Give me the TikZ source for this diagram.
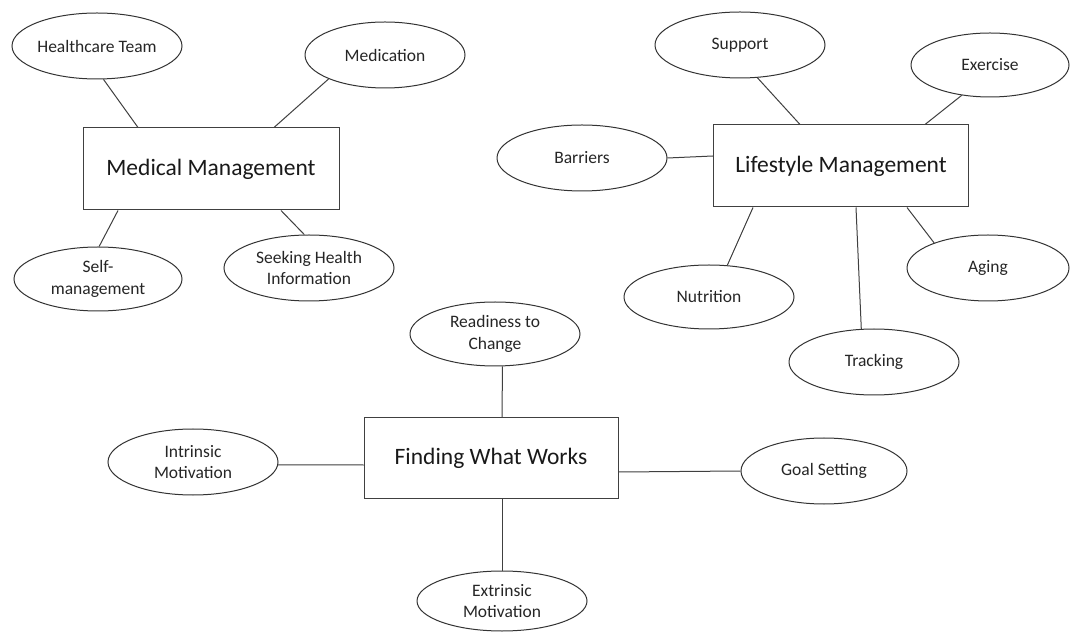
\documentclass[tikz,border=0pt]{standalone}
\usepackage{fontspec}
\setmainfont{Carlito}
\usetikzlibrary{shapes.geometric}
\begin{document}
\begin{tikzpicture}[x=1pt,y=1pt,
  oval/.style={ellipse,draw=black!80,line width=1pt,inner sep=0pt,align=center,
    font=\fontsize{17.5}{21.5}\selectfont,text=black!85},
  hub/.style={rectangle,draw=black!75,line width=1pt,inner sep=0pt,
    font=\fontsize{23.5}{28}\selectfont,text=black!90},
  link/.style={draw=black!75,line width=1pt}]
\useasboundingbox[fill=white] (0,0) rectangle (1070,632);
% Medical Management
\node[hub,minimum width=256pt,minimum height=82pt] (mm) at (211,463) {Medical Management};
\node[oval,minimum width=170pt,minimum height=66pt] (ht) at (97,586) {Healthcare Team};
\node[oval,minimum width=160pt,minimum height=66pt] (med) at (385,577) {Medication};
\node[oval,minimum width=168pt,minimum height=64pt] (self) at (98,353) {Self-\\management};
\node[oval,minimum width=170pt,minimum height=66pt] (seek) at (309,364) {Seeking Health\\Information};
% Lifestyle Management
\node[hub,minimum width=255pt,minimum height=82pt] (lm) at (841,466) {Lifestyle Management};
\node[oval,minimum width=170pt,minimum height=66pt] (sup) at (740,587) {Support};
\node[oval,minimum width=158pt,minimum height=64pt] (ex) at (990,567) {Exercise};
\node[oval,minimum width=170pt,minimum height=66pt] (bar) at (582,474) {Barriers};
\node[oval,minimum width=170pt,minimum height=64pt] (nut) at (709,335) {Nutrition};
\node[oval,minimum width=162pt,minimum height=66pt] (aging) at (988,364) {Aging};
\node[oval,minimum width=170pt,minimum height=66pt] (track) at (874,270) {Tracking};
% Finding What Works
\node[hub,minimum width=254pt,minimum height=81pt] (fww) at (491,174) {Finding What Works};
\node[oval,minimum width=170pt,minimum height=64pt] (ready) at (495,298) {Readiness to\\Change};
\node[oval,minimum width=170pt,minimum height=66pt] (intr) at (193,170) {Intrinsic\\Motivation};
\node[oval,minimum width=166pt,minimum height=66pt] (goal) at (824,161) {Goal Setting};
\node[oval,minimum width=170pt,minimum height=60pt] (extr) at (502,31) {Extrinsic\\Motivation};
% connectors
\draw[link] (ht.-79) -- ([xshift=-73pt]mm.north);
\draw[link] (med.-157) -- ([xshift=63pt]mm.north);
\draw[link] (self.88) -- ([xshift=-93pt]mm.south);
\draw[link] (seek.98) -- ([xshift=70pt]mm.south);
\draw[link] (sup.-62) -- ([xshift=-41pt]lm.north);
\draw[link] (ex.-133) -- ([xshift=84pt]lm.north);
\draw[link] (bar.east) -- ([yshift=10pt]lm.west);
\draw[link] (nut.60) -- ([xshift=-88pt]lm.south);
\draw[link] (track.111) -- ([xshift=15pt]lm.south);
\draw[link] (aging.155) -- ([xshift=66pt]lm.south);
\draw[link] (ready.-77.6) -- ([xshift=11pt]fww.north);
\draw[link] (intr.-2) -- ([yshift=-7pt]fww.west);
\draw[link] (goal.west) -- ([yshift=-14pt]fww.east);
\draw[link] (extr.north) -- ([xshift=11pt]fww.south);
\end{tikzpicture}
\end{document}
